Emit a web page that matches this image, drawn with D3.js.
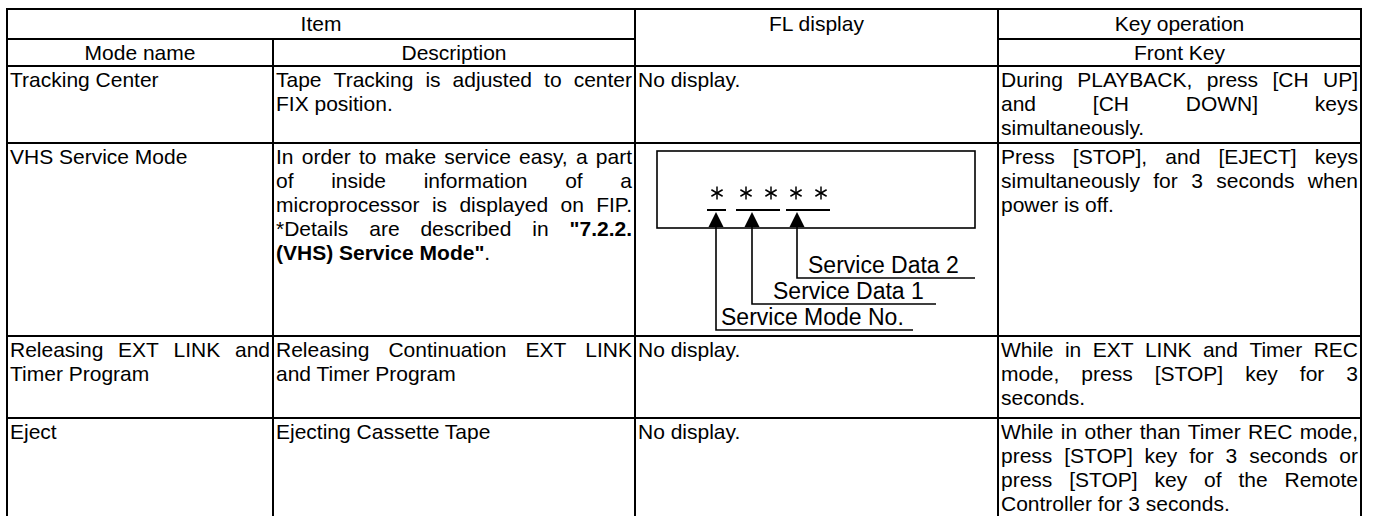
<!DOCTYPE html>
<html><head><meta charset="utf-8">
<script src="https://cdn.jsdelivr.net/npm/d3@7"></script>
<style>html,body{margin:0;padding:0;background:#fff;} svg{display:block;}</style>
</head><body><svg id="c" width="1375" height="516"></svg>
<script>
// ---------- data ----------
const headerTop = ["Item", "FL display", "Key operation"];
const headerSub = ["Mode name", "Description", "Front Key"];
const modeNames = [
  ["Tracking Center"],
  ["VHS Service Mode"],
  ["Releasing EXT LINK and", "Timer Program"],
  ["Eject"]
];
const descriptions = [
  ["Tape Tracking is adjusted to center", "FIX position."],
  ["In order to make service easy, a part", "of inside information of a", "microprocessor is displayed on FIP.",
   "*Details are described in **\"7.2.2.**", "**(VHS) Service Mode\"**."],
  ["Releasing Continuation EXT LINK", "and Timer Program"],
  ["Ejecting Cassette Tape"]
];
const flDisplay = [["No display."], null, ["No display."], ["No display."]];
const keyOperations = [
  ["During PLAYBACK, press [CH UP]", "and [CH DOWN] keys", "simultaneously."],
  ["Press [STOP], and [EJECT] keys", "simultaneously for 3 seconds when", "power is off."],
  ["While in EXT LINK and Timer REC", "mode, press [STOP] key for 3", "seconds."],
  ["While in other than Timer REC mode,", "press [STOP] key for 3 seconds or", "press [STOP] key of the Remote", "Controller for 3 seconds."]
];
const serviceFields = ["Service Mode No.", "Service Data 1", "Service Data 2"];
const fieldDigits = [1, 2, 2];

// ---------- layout ----------
const W = 1375, H = 516;
const FONT = "'Liberation Sans', Arial, Helvetica, sans-serif";
const FS = 21, LH = 24, PADX = 2, BASE = 21;
const colX = d3.scaleOrdinal().domain([0,1,2,3,4]).range([7, 273, 635, 998, 1361]);
const rowY = d3.scaleOrdinal().domain([0,1,2,3,4,5,6]).range([9, 39, 66, 143, 336, 418, 516]);

const svg = d3.select("#c");
svg.append("rect").attr("width", W).attr("height", H).attr("fill", "#fff");
const gText = svg.append("g").attr("font-family", FONT).attr("font-size", FS).attr("fill", "#000");

function parseRuns(s) {
  const parts = s.split("**");
  return parts.map((t, i) => ({t, b: i % 2 === 1})).filter(r => r.t.length);
}
function toWords(s) {
  const runs = parseRuns(s);
  const words = [[]];
  runs.forEach(r => {
    const pieces = r.t.split(" ");
    pieces.forEach((p, i) => {
      if (i > 0) words.push([]);
      if (p.length) words[words.length - 1].push({t: p, b: r.b});
    });
  });
  return words.filter(w => w.length);
}
function addRuns(textSel, runs) {
  runs.forEach(r => textSel.append("tspan").attr("font-weight", r.b ? "bold" : null).text(r.t));
}
function drawLine(g, s, x, y, width, justify, anchor) {
  if (!justify) {
    const t = g.append("text").attr("x", x).attr("y", y).attr("xml:space", "preserve");
    if (anchor) t.attr("text-anchor", anchor);
    addRuns(t, parseRuns(s));
    return;
  }
  const words = toWords(s);
  const nodes = words.map(w => {
    const t = g.append("text").attr("y", y);
    addRuns(t, w);
    return t;
  });
  const widths = nodes.map(n => n.node().getComputedTextLength());
  const total = d3.sum(widths);
  const gap = words.length > 1 ? (width - total) / (words.length - 1) : 0;
  let cx = x;
  nodes.forEach((n, i) => { n.attr("x", cx); cx += widths[i] + gap; });
}
function drawCell(lines, col, row) {
  if (!lines) return;
  const x0 = colX(col) + PADX + 1, w = colX(col + 1) - colX(col) - 2 * PADX - 2;
  const y0 = rowY(row);
  lines.forEach((ln, i) => {
    const justify = lines.length > 1 && i < lines.length - 1;
    drawLine(gText, ln, x0, y0 + BASE + i * LH, w, justify);
  });
}

// headers
const topSpans = [[0, 2], [2, 3], [3, 4]];
headerTop.forEach((h, i) => {
  const [a, b] = topSpans[i];
  drawLine(gText, h, (colX(a) + colX(b)) / 2, rowY(0) + 22, 0, false, "middle");
});
const subCols = [0, 1, 3];
headerSub.forEach((h, i) => {
  const c = subCols[i];
  drawLine(gText, h, (colX(c) + colX(c + 1)) / 2, rowY(1) + 21, 0, false, "middle");
});

// body
modeNames.forEach((l, r) => drawCell(l, 0, r + 2));
descriptions.forEach((l, r) => drawCell(l, 1, r + 2));
flDisplay.forEach((l, r) => drawCell(l, 2, r + 2));
keyOperations.forEach((l, r) => drawCell(l, 3, r + 2));

// grid
const gGrid = svg.append("g").attr("stroke", "#000").attr("stroke-width", 2);
const hLines = [
  [rowY(0), colX(0), colX(4)],
  [rowY(1), colX(0), colX(2)],
  [rowY(1), colX(3), colX(4)],
  [rowY(2), colX(0), colX(4)],
  [rowY(3), colX(0), colX(4)],
  [rowY(4), colX(0), colX(4)],
  [rowY(5), colX(0), colX(4)]
];
hLines.forEach(([y, x1, x2]) => gGrid.append("line").attr("x1", x1 - 1).attr("x2", x2 + 1).attr("y1", y).attr("y2", y));
const vLines = [
  [colX(0), rowY(0), H], [colX(1), rowY(1), H], [colX(2), rowY(0), H], [colX(3), rowY(0), H], [colX(4), rowY(0), H]
];
vLines.forEach(([x, y1, y2]) => gGrid.append("line").attr("x1", x).attr("x2", x).attr("y1", y1 - 1).attr("y2", y2));

// ---------- FL display diagram ----------
const gD = svg.append("g").attr("stroke", "#000").attr("fill", "none");
const box = {x: 657, y: 151, w: 318, h: 77};
gD.append("rect").attr("x", box.x).attr("y", box.y).attr("width", box.w).attr("height", box.h).attr("stroke-width", 1.6);

const pitch = 25, firstGap = 4, starX0 = 717, starY = 193, ulY = 210;
let k = 0;
const groups = fieldDigits.map((n) => d3.range(n).map(() => {
  const v = starX0 + k * pitch + (k >= 1 ? firstGap : 0);
  k++;
  return v;
}));
groups.forEach(xs => {
  xs.forEach(x => {
    [90, 30, 150].forEach(a => {
      const rad = a * Math.PI / 180, r = 6.5;
      gD.append("line").attr("stroke-width", 1.5)
        .attr("x1", x - r * Math.cos(rad)).attr("y1", starY - r * Math.sin(rad))
        .attr("x2", x + r * Math.cos(rad)).attr("y2", starY + r * Math.sin(rad));
    });
  });
  gD.append("line").attr("stroke-width", 2).attr("x1", xs[0] - 10).attr("x2", xs[xs.length - 1] + 9).attr("y1", ulY).attr("y2", ulY);
});

const arrowX = [groups[0][0] - 1, groups[1][0] + 6, groups[2][0] + 1];
const leaderY = [330, 304, 278];
const leaderEnd = [913, 936, 975];
const labelX = [721, 773, 808];
const gL = svg.append("g").attr("font-family", FONT).attr("font-size", 23).attr("fill", "#000");
serviceFields.forEach((name, i) => {
  const ax = arrowX[i];
  svg.append("path").attr("d", `M${ax},212 L${ax - 7.5},227 L${ax + 7.5},227 Z`).attr("fill", "#000");
  gD.append("path").attr("stroke-width", 1.6).attr("d", `M${ax},226 V${leaderY[i]} H${leaderEnd[i]}`);
  gL.append("text").attr("x", labelX[i]).attr("y", leaderY[i] - 5).text(name);
});
</script></body></html>
